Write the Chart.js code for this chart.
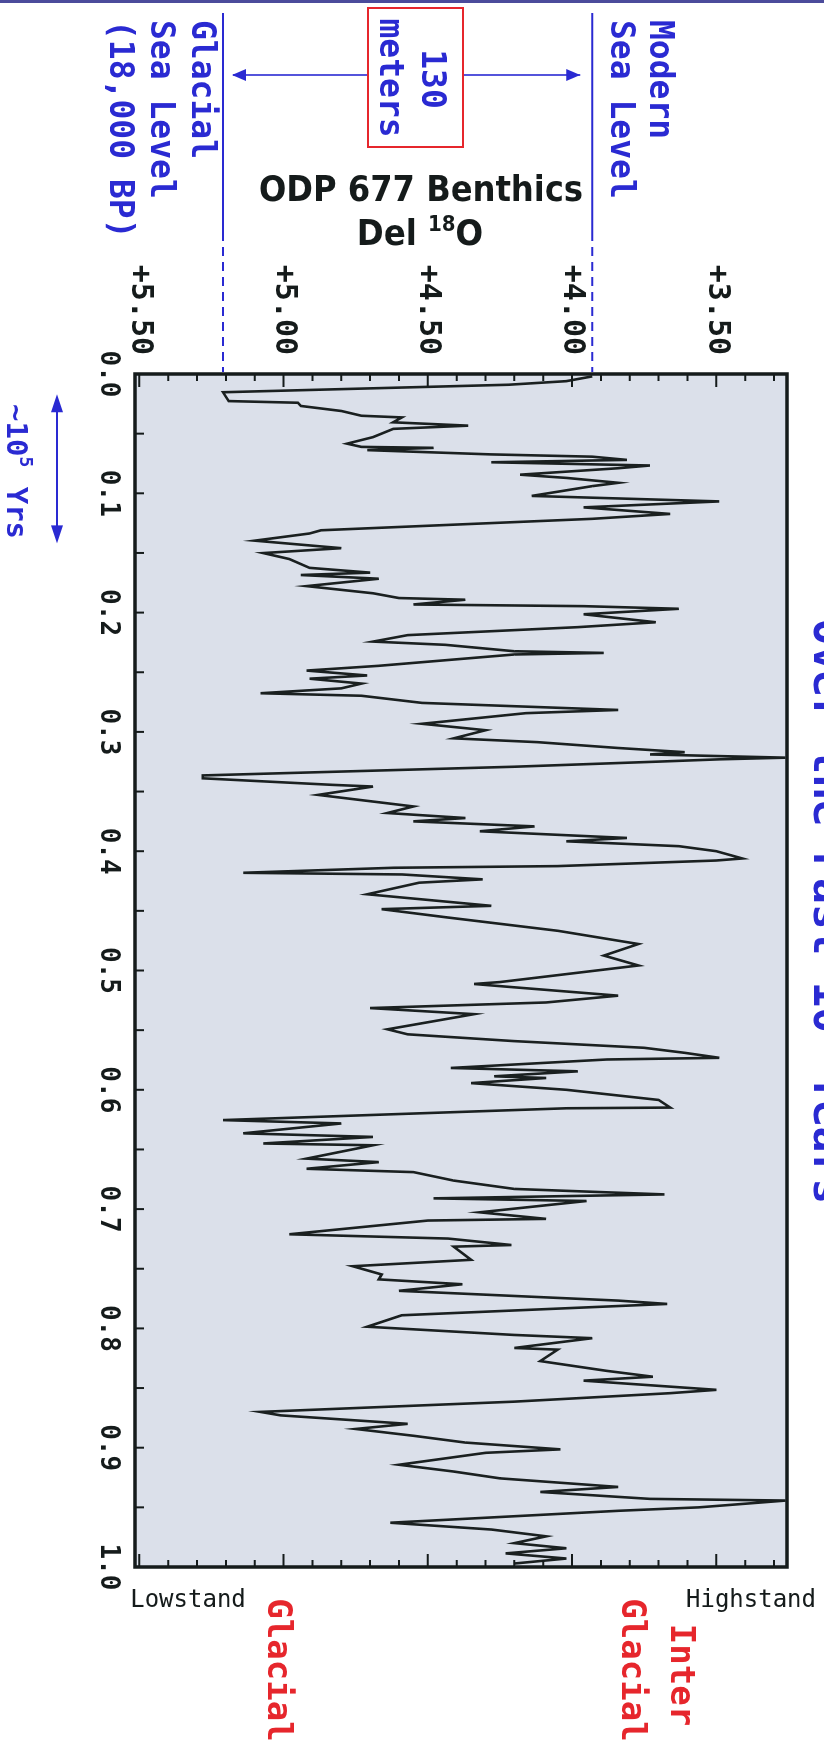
<!DOCTYPE html>
<html>
<head>
<meta charset="utf-8">
<script src="https://cdn.jsdelivr.net/npm/chart.js@4.4.1/dist/chart.umd.min.js"></script>
<style>
  html, body { margin: 0; padding: 0; background: #ffffff; overflow: hidden; }
  #wrap { position: relative; width: 824px; height: 1749px; overflow: hidden; background: #fff; }
  #c { position: absolute; left: 0; top: 0; transform-origin: 0 0; transform: translate(824px, 0) rotate(90deg); }
</style>
</head>
<body>
<div id="wrap"><canvas id="c" width="1749" height="824"></canvas></div>
<script>
// ---- data (age in Mya, benthic delta 18O in per mil) ----
const ages = [
  0.002, 0.006, 0.009, 0.0153, 0.0227, 0.0241, 0.0268, 0.031, 0.035, 0.0364,
  0.0405, 0.0433, 0.046, 0.0529, 0.0584, 0.0611, 0.0619, 0.0638, 0.0674, 0.0693,
  0.072, 0.074, 0.0767, 0.079, 0.0844, 0.0871, 0.0912, 0.094, 0.1022, 0.1068,
  0.1118, 0.1173, 0.1214, 0.131, 0.1337, 0.1397, 0.146, 0.1501, 0.1551, 0.1625,
  0.1665, 0.1685, 0.1716, 0.1778, 0.1838, 0.1878, 0.1892, 0.1932, 0.1946, 0.1968,
  0.2014, 0.2081, 0.2122, 0.2189, 0.2243, 0.227, 0.2324, 0.2338, 0.2351, 0.2446,
  0.2486, 0.2527, 0.2554, 0.2595, 0.2635, 0.2676, 0.2697, 0.2757, 0.2816, 0.2843,
  0.2932, 0.2986, 0.3054, 0.3086, 0.3135, 0.317, 0.3189, 0.3216, 0.323, 0.3249,
  0.3292, 0.3365, 0.3389, 0.3444, 0.3458, 0.3528, 0.3625, 0.368, 0.3722, 0.375,
  0.3792, 0.3833, 0.3889, 0.3917, 0.3958, 0.4, 0.4061, 0.4078, 0.4125, 0.4139,
  0.4181, 0.4195, 0.4236, 0.4264, 0.4361, 0.4458, 0.4486, 0.4556, 0.4667, 0.4778,
  0.4875, 0.4958, 0.5097, 0.5113, 0.5141, 0.5211, 0.5268, 0.5315, 0.5366, 0.5493,
  0.5535, 0.5592, 0.5648, 0.569, 0.5732, 0.5746, 0.5817, 0.5845, 0.5887, 0.5901,
  0.5944, 0.6, 0.6085, 0.6149, 0.6155, 0.6254, 0.6282, 0.6365, 0.6395, 0.645,
  0.6465, 0.6577, 0.6606, 0.6662, 0.669, 0.6761, 0.6831, 0.6877, 0.691, 0.6932,
  0.7027, 0.7082, 0.7096, 0.7211, 0.7247, 0.7301, 0.7315, 0.7425, 0.7479, 0.7548,
  0.7589, 0.763, 0.7685, 0.7767, 0.7795, 0.789, 0.7986, 0.8055, 0.8082, 0.8164,
  0.8178, 0.8274, 0.8356, 0.8405, 0.8438, 0.8515, 0.8543, 0.8614, 0.87, 0.8729,
  0.88, 0.8843, 0.89, 0.8957, 0.9014, 0.9043, 0.9143, 0.92, 0.9257, 0.9329,
  0.9371, 0.9429, 0.9443, 0.95, 0.9529, 0.9629, 0.9686, 0.9743, 0.98, 0.9843,
  0.9886, 0.9929, 0.9971
];
const d18O = [
  3.93, 4.02, 4.22, 5.21, 5.19, 4.95, 4.94, 4.80, 4.73, 4.59,
  4.62, 4.36, 4.62, 4.69, 4.78, 4.73, 4.48, 4.71, 4.28, 3.93,
  3.81, 4.28, 3.73, 3.84, 4.18, 4.02, 3.84, 3.93, 4.14, 3.49,
  3.96, 3.66, 3.93, 4.87, 4.91, 5.10, 4.80, 5.07, 4.98, 4.91,
  4.70, 4.94, 4.67, 4.92, 4.69, 4.60, 4.37, 4.55, 3.96, 3.63,
  3.96, 3.71, 3.98, 4.57, 4.69, 4.44, 4.20, 3.89, 4.20, 4.67,
  4.92, 4.71, 4.91, 4.73, 4.80, 5.08, 4.73, 4.52, 3.84, 4.16,
  4.52, 4.30, 4.41, 4.12, 3.84, 3.61, 3.73, 3.26, 3.49, 3.70,
  4.20, 5.28, 5.28, 4.83, 4.69, 4.88, 4.55, 4.64, 4.37, 4.55,
  4.13, 4.32, 3.81, 4.02, 3.63, 3.50, 3.41, 3.50, 4.05, 4.62,
  5.14, 4.59, 4.31, 4.53, 4.71, 4.28, 4.66, 4.43, 4.05, 3.77,
  3.89, 3.77, 4.25, 4.34, 4.20, 3.84, 4.09, 4.70, 4.34, 4.64,
  4.57, 4.20, 3.75, 3.61, 3.49, 3.88, 4.42, 3.98, 4.27, 4.09,
  4.35, 4.02, 3.70, 3.66, 4.02, 5.21, 4.80, 5.14, 4.69, 5.07,
  4.69, 4.92, 4.67, 4.92, 4.55, 4.41, 4.20, 3.68, 4.48, 3.95,
  4.32, 4.09, 4.50, 4.98, 4.43, 4.21, 4.41, 4.35, 4.76, 4.66,
  4.67, 4.38, 4.60, 3.84, 3.67, 4.59, 4.71, 4.20, 3.93, 4.20,
  4.05, 4.11, 3.88, 3.72, 3.96, 3.50, 3.66, 4.20, 5.08, 5.01,
  4.57, 4.75, 4.55, 4.37, 4.04, 4.30, 4.60, 4.41, 4.25, 3.84,
  4.11, 3.73, 3.26, 3.56, 3.84, 4.63, 4.28, 4.09, 4.20, 4.02,
  4.23, 4.02, 4.20
];
const ageTicks = [0.0, 0.1, 0.2, 0.3, 0.4, 0.5, 0.6, 0.7, 0.8, 0.9, 1.0];
const valueTicks = [3.5, 4.0, 4.5, 5.0, 5.5];
const valueMin = 3.255, valueMax = 5.515;
const glacialLevel = 5.21;   // glacial sea level (18,000 BP)
const modernLevel = 3.93;    // modern sea level
const yrsSpan = [0.017, 0.142]; // ~10^5 yrs bracket

const BLUE = '#2a2ad2', RED = '#e6262c', INK = '#151b1b';
const MONO = "'DejaVu Sans Mono', 'Liberation Mono', monospace";
const COND = "'DejaVu Sans Condensed', 'DejaVu Sans', sans-serif";

function arrowHead(ctx, tx, ty, dx, dy, len, half) {
  const bx = tx - dx * len, by = ty - dy * len, px = -dy, py = dx;
  ctx.beginPath();
  ctx.moveTo(tx, ty);
  ctx.lineTo(bx + px * half, by + py * half);
  ctx.lineTo(bx - px * half, by - py * half);
  ctx.closePath();
  ctx.fill();
}
function rotText(ctx, x, y, fn) {
  ctx.save(); ctx.translate(x, y); ctx.rotate(-Math.PI / 2); fn(); ctx.restore();
}

const decor = {
  id: 'decor',
  beforeDraw(chart) {
    const ctx = chart.ctx, a = chart.chartArea;
    ctx.save();
    ctx.fillStyle = '#ffffff';
    ctx.fillRect(0, 0, chart.width, chart.height);
    ctx.fillStyle = '#dbe0ea';
    ctx.fillRect(a.left, a.top, a.right - a.left, a.bottom - a.top);
    ctx.fillStyle = '#4b4b9b';
    ctx.fillRect(0, 0, 3, chart.height);
    ctx.restore();
  },
  afterDatasetsDraw(chart) {
    const ctx = chart.ctx, a = chart.chartArea, xs = chart.scales.x, ys = chart.scales.y;
    ctx.save();
    ctx.strokeStyle = INK;
    ctx.lineWidth = 2;
    for (let i = 33; i <= 55; i++) {
      const v = i / 10, Y = ys.getPixelForValue(v);
      const len = (i % 5 === 0) ? 13 : 7;
      ctx.beginPath();
      ctx.moveTo(a.left, Y); ctx.lineTo(a.left + len, Y);
      ctx.moveTo(a.right, Y); ctx.lineTo(a.right - len, Y);
      ctx.stroke();
    }
    for (let i = 1; i < 20; i++) {
      const X = xs.getPixelForValue(i * 0.05);
      ctx.beginPath(); ctx.moveTo(X, a.bottom); ctx.lineTo(X, a.bottom - 9); ctx.stroke();
    }
    ctx.lineWidth = 3.5;
    ctx.strokeRect(a.left, a.top, a.right - a.left, a.bottom - a.top);
    ctx.restore();
  },
  afterDraw(chart) {
    const ctx = chart.ctx, a = chart.chartArea, xs = chart.scales.x, ys = chart.scales.y;
    ctx.save();
    const gY = ys.getPixelForValue(glacialLevel), mY = ys.getPixelForValue(modernLevel);
    ctx.strokeStyle = BLUE; ctx.fillStyle = BLUE; ctx.lineWidth = 2;
    [gY, mY].forEach(Y => {
      ctx.setLineDash([]);
      ctx.beginPath(); ctx.moveTo(13, Y); ctx.lineTo(232, Y); ctx.stroke();
      ctx.setLineDash([9, 6]);
      ctx.beginPath(); ctx.moveTo(232, Y); ctx.lineTo(a.left - 2, Y); ctx.stroke();
    });
    ctx.setLineDash([]);
    const AX = 75, boxTop = 361, boxBot = 456;
    ctx.lineWidth = 1.6;
    ctx.beginPath(); ctx.moveTo(AX, boxBot); ctx.lineTo(AX, gY - 10); ctx.stroke();
    ctx.beginPath(); ctx.moveTo(AX, boxTop); ctx.lineTo(AX, mY + 12); ctx.stroke();
    arrowHead(ctx, AX, gY - 9, 0, 1, 14, 6);
    arrowHead(ctx, AX, mY + 12, 0, -1, 14, 6);
    ctx.strokeStyle = RED; ctx.lineWidth = 2;
    ctx.strokeRect(8, boxTop, 139, boxBot - boxTop);
    ctx.fillStyle = BLUE;
    ctx.font = 'bold 33px ' + MONO;
    ctx.textBaseline = 'alphabetic';
    ctx.textAlign = 'center';
    ctx.fillText('130', 79, 402);
    ctx.fillText('meters', 78, 444);
    ctx.textAlign = 'left';
    ctx.fillText('Glacial', 20, 632);
    ctx.fillText('Sea Level', 20, 673);
    ctx.fillText('(18,000 BP)', 20, 714);
    ctx.fillText('Modern', 20, 174);
    ctx.fillText('Sea Level', 20, 213);
    ctx.fillStyle = INK;
    rotText(ctx, 201, 403, () => {
      ctx.textAlign = 'center';
      ctx.font = 'bold 36px ' + COND;
      ctx.fillText('ODP 677 Benthics', 0, 0, 324);
    });
    rotText(ctx, 245, 404, () => {
      ctx.textAlign = 'left';
      ctx.font = 'bold 36px ' + COND;
      const w1 = ctx.measureText('Del ').width;
      const w3 = ctx.measureText('O').width;
      ctx.font = 'bold 22px ' + COND;
      const w2 = ctx.measureText('18').width;
      const W = w1 + w2 + w3;
      const x0 = -W / 2;
      ctx.font = 'bold 36px ' + COND;
      ctx.fillText('Del ', x0, 0);
      ctx.font = 'bold 22px ' + COND;
      ctx.fillText('18', x0 + w1, -14);
      ctx.font = 'bold 36px ' + COND;
      ctx.fillText('O', x0 + w1 + w2, 0);
    });
    ctx.font = '24px ' + MONO;
    rotText(ctx, 1607, 636, () => { ctx.textAlign = 'center'; ctx.fillText('Lowstand', 0, 0); });
    rotText(ctx, 1607, 73, () => { ctx.textAlign = 'center'; ctx.fillText('Highstand', 0, 0); });
    ctx.fillStyle = RED;
    ctx.font = 'bold 34px ' + MONO;
    ctx.textAlign = 'center';
    ctx.fillText('Glacial', 1670, 556);
    ctx.fillText('Inter', 1675, 153);
    ctx.fillText('Glacial', 1670, 202);
    ctx.fillStyle = BLUE; ctx.strokeStyle = BLUE; ctx.lineWidth = 2;
    const x1 = xs.getPixelForValue(yrsSpan[0]), x2 = xs.getPixelForValue(yrsSpan[1]);
    const AY = 767;
    ctx.beginPath(); ctx.moveTo(x1 + 10, AY); ctx.lineTo(x2 - 10, AY); ctx.stroke();
    arrowHead(ctx, x1, AY, -1, 0, 18, 6);
    arrowHead(ctx, x2, AY, 1, 0, 18, 6);
    ctx.textAlign = 'left';
    let tx = 404;
    ctx.font = 'bold 29px ' + MONO;
    ctx.fillText('~10', tx, 817); tx += ctx.measureText('~10').width;
    ctx.font = 'bold 18px ' + MONO;
    ctx.fillText('5', tx, 804); tx += ctx.measureText('5').width + 2;
    ctx.font = 'bold 29px ' + MONO;
    ctx.fillText(' Yrs', tx, 817);
    // cut-off title at the edge
    let ttx = 619;
    ctx.font = 'bold 43px ' + MONO;
    ctx.fillText('Over the Past 10', ttx, 10); ttx += ctx.measureText('Over the Past 10').width;
    ctx.font = 'bold 26px ' + MONO;
    ctx.fillText('6', ttx, -6); ttx += ctx.measureText('6').width;
    ctx.font = 'bold 43px ' + MONO;
    ctx.fillText(' Years', ttx, 10);
    ctx.restore();
  }
};

const chart = new Chart(document.getElementById('c'), {
  type: 'line',
  data: {
    datasets: [{
      data: ages.map((a, i) => ({ x: a, y: d18O[i] })),
      borderColor: '#1a2020',
      borderWidth: 2.6,
      pointRadius: 0,
      tension: 0,
      fill: false,
      clip: 0
    }]
  },
  options: {
    responsive: false,
    animation: false,
    devicePixelRatio: 1,
    events: [],
    layout: { padding: { top: 22, right: 182, bottom: 0, left: 0 } },
    plugins: { legend: { display: false }, tooltip: { enabled: false }, title: { display: false } },
    scales: {
      x: {
        type: 'linear', position: 'bottom', min: 0, max: 1,
        grid: { display: false, drawTicks: false },
        border: { display: false },
        afterBuildTicks: s => { s.ticks = ageTicks.map(v => ({ value: v })); },
        afterFit: s => { s.height = 135; },
        ticks: {
          autoSkip: false, maxRotation: 0, minRotation: 0, padding: 12,
          color: INK, font: { family: MONO, size: 26, weight: 'bold' },
          callback: v => Number(v).toFixed(1)
        }
      },
      y: {
        type: 'linear', position: 'left', reverse: true, min: valueMin, max: valueMax,
        grid: { display: false, drawTicks: false },
        border: { display: false },
        afterBuildTicks: s => { s.ticks = valueTicks.map(v => ({ value: v })); },
        afterFit: s => { s.width = 374; },
        ticks: {
          autoSkip: false, padding: 19,
          color: INK, font: { family: MONO, size: 30, weight: 'bold' },
          callback: v => '+' + Number(v).toFixed(2)
        }
      }
    }
  },
  plugins: [decor]
});
</script>
</body>
</html>
